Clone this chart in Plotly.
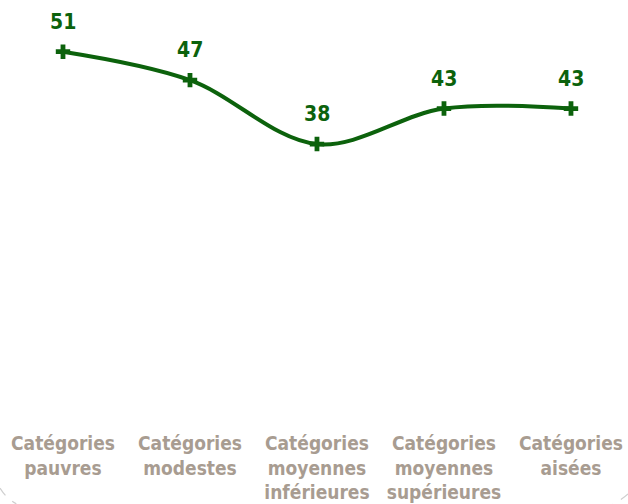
import plotly.graph_objects as go

categories = ["Catégories<br>pauvres", "Catégories<br>modestes", "Catégories<br>moyennes<br>inférieures",
              "Catégories<br>moyennes<br>supérieures", "Catégories<br>aisées"]
values = [51, 47, 38, 43, 43]
x_pos = list(range(len(categories)))

GREEN = "#0c620c"
TAUPE = "#a89c91"
FONT = "DejaVu Sans Condensed, DejaVu Sans, sans-serif"

fig = go.Figure()
fig.add_trace(go.Scatter(
    x=x_pos, y=values, mode="lines+markers",
    line=dict(color=GREEN, width=4, shape="spline", smoothing=1.0),
    marker=dict(symbol="cross", size=12, color=GREEN),
    cliponaxis=False, hoverinfo="skip",
))

for xv, yv in zip(x_pos, values):
    fig.add_annotation(x=xv, y=yv, text=str(yv), showarrow=False, yshift=30,
                       font=dict(family=FONT, size=21, color=GREEN, weight="bold"))

# faint dashed rounded border visible at the bottom corners
fig.add_shape(type="path", xref="paper", yref="paper",
              path="M 0,-0.180 Q 0.01,-0.205 0.026,-0.218",
              line=dict(color="#cfcfcf", width=1.2, dash="dash"))
fig.add_shape(type="path", xref="paper", yref="paper",
              path="M 1.0,-0.194 Q 0.99,-0.208 0.976,-0.218",
              line=dict(color="#cfcfcf", width=1.2, dash="dash"))

fig.update_layout(
    width=628, height=504,
    margin=dict(l=0, r=0, t=2, b=90),
    paper_bgcolor="white", plot_bgcolor="white",
    showlegend=False,
    xaxis=dict(range=[-0.496, 4.449], tickvals=x_pos, ticktext=categories,
               showgrid=False, zeroline=False, showline=False, ticks="",
               ticklabelstandoff=16,
               tickfont=dict(family=FONT, size=19, color=TAUPE, weight="bold"),
               fixedrange=True),
    yaxis=dict(range=[0, 58], visible=False, fixedrange=True),
)

fig.write_html("out.html", config={"displayModeBar": False},
               post_script="document.body.style.margin='0';")
